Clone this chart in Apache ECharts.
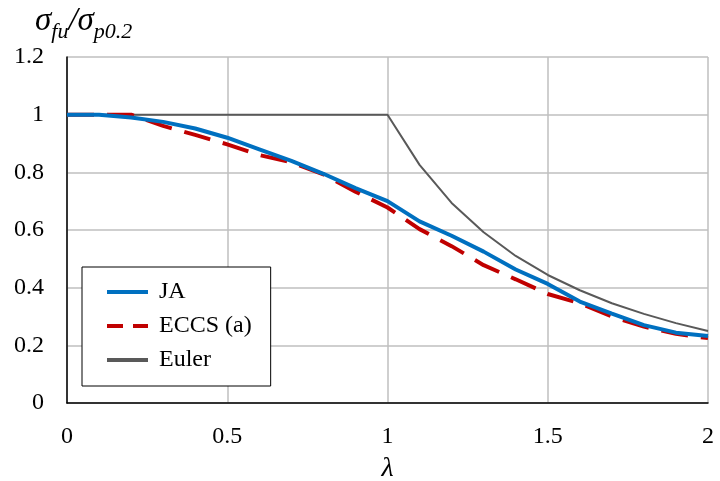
<!DOCTYPE html>
<html>
<head>
<meta charset="utf-8">
<script src="https://cdn.jsdelivr.net/npm/echarts@6/dist/echarts.min.js"></script>
<style>html,body{margin:0;padding:0;background:#fff;}#c{width:720px;height:481px;}</style>
</head>
<body>
<div id="c"></div>
<script>
var lambda = [0,0.1,0.2,0.3,0.4,0.5,0.6,0.7,0.8,0.9,1.0,1.1,1.2,1.3,1.4,1.5,1.6,1.7,1.8,1.9,2.0];
var ja    = [1,1,0.99,0.975,0.952,0.92,0.88,0.84,0.795,0.745,0.70,0.63,0.58,0.525,0.463,0.413,0.352,0.31,0.27,0.244,0.232];
var eccs  = [1,1,1,0.961,0.93,0.897,0.86,0.835,0.793,0.733,0.678,0.603,0.544,0.478,0.429,0.378,0.346,0.30,0.265,0.24,0.225];
var euler = [1,1,1,1,1,1,1,1,1,1,1,0.826,0.694,0.592,0.51,0.444,0.391,0.346,0.309,0.277,0.25];
var seriesNames = ['JA','ECCS (a)','Euler'];
var xTicks = [0,0.5,1,1.5,2];
var yTicks = [0,0.2,0.4,0.6,0.8,1,1.2];

function pairs(xs, ys){ return xs.map(function(x,i){ return [x, ys[i]]; }); }

var font = 'Liberation Serif';
var chart = echarts.init(document.getElementById('c'), null, {renderer:'canvas'});
chart.setOption({
  animation:false,
  backgroundColor:'#fff',
  title:{
    left:35, top:5, padding:0,
    text:'{a|σ}{s|fu}{a|/σ}{s|p0.2}',
    textStyle:{
      fontWeight:'normal',
      rich:{
        a:{fontFamily:font, fontStyle:'italic', fontWeight:'normal', fontSize:33, color:'#000', verticalAlign:'bottom'},
        s:{fontFamily:font, fontStyle:'italic', fontWeight:'normal', fontSize:22, color:'#000', verticalAlign:'bottom', padding:[0,0,-5,0]}
      }
    }
  },
  grid:{left:67, right:12, top:57, bottom:78, containLabel:false, outerBoundsMode:'none'},
  legend:{
    orient:'vertical', left:82, top:267,
    data:[
      {name:seriesNames[0]},
      {name:seriesNames[1], lineStyle:{type:[16,10], width:4}},
      {name:seriesNames[2]}
    ],
    backgroundColor:'#fff', borderColor:'#000', borderWidth:1,
    padding:[13,19,14,23],
    itemGap:10, itemWidth:41, itemHeight:14,
    itemStyle:{opacity:0},
    lineStyle:{width:4},
    textStyle:{fontFamily:font, fontSize:24, color:'#000', lineHeight:24, padding:[0,0,0,6]},
    selectedMode:false
  },
  xAxis:{
    type:'value', min:xTicks[0], max:xTicks[xTicks.length-1], interval:0.5,
    name:'λ', nameLocation:'middle', nameGap:52,
    nameTextStyle:{fontFamily:font, fontStyle:'italic', fontSize:28, color:'#000'},
    axisLine:{show:true, onZero:false, lineStyle:{color:'#000', width:1.5}},
    axisTick:{show:false},
    axisLabel:{fontFamily:font, fontSize:24, color:'#000', margin:22},
    splitLine:{show:true, lineStyle:{color:'#bfbfbf', width:1.5}}
  },
  yAxis:{
    type:'value', min:yTicks[0], max:yTicks[yTicks.length-1], interval:0.2,
    axisLine:{show:true, lineStyle:{color:'#000', width:1.5}},
    axisTick:{show:false},
    axisLabel:{fontFamily:font, fontSize:24, color:'#000', margin:23},
    splitLine:{show:true, lineStyle:{color:'#bfbfbf', width:1.5}}
  },
  series:[
    {name:'Euler', type:'line', data:pairs(lambda, euler), symbol:'none', z:2,
     lineStyle:{color:'#595959', width:2}, itemStyle:{color:'#595959'}},
    {name:'ECCS (a)', type:'line', data:pairs(lambda, eccs), symbol:'none', z:3,
     lineStyle:{color:'#c00000', width:4, type:[27,13]}, itemStyle:{color:'#c00000'}},
    {name:'JA', type:'line', data:pairs(lambda, ja), symbol:'none', z:4,
     lineStyle:{color:'#0070c0', width:4}, itemStyle:{color:'#0070c0'}}
  ]
});
</script>
</body>
</html>
